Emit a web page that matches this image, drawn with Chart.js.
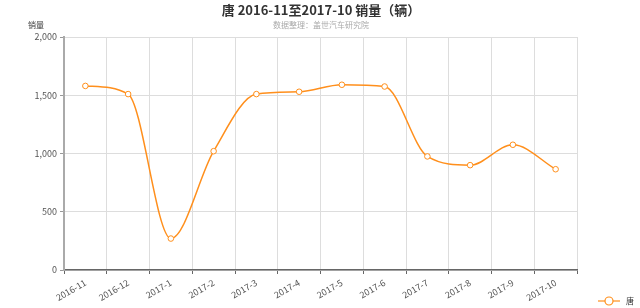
<!DOCTYPE html>
<html>
<head>
<meta charset="utf-8">
<script src="https://cdn.jsdelivr.net/npm/chart.js@4/dist/chart.umd.min.js"></script>
<style>
  html, body { margin: 0; padding: 0; background: #fff; }
  #wrap { width: 640px; height: 308px; position: relative; }
</style>
</head>
<body>
<div id="wrap"><canvas id="c" width="640" height="308"></canvas></div>
<script>
// 数据
const months = ["2016-11", "2016-12", "2017-1", "2017-2", "2017-3", "2017-4",
                "2017-5", "2017-6", "2017-7", "2017-8", "2017-9", "2017-10"];
const sales = [1580, 1510, 270, 1020, 1510, 1530, 1590, 1575, 975, 900, 1075, 865];
const yTicks = [0, 500, 1000, 1500, 2000];
const seriesName = "唐";
const titleText = "唐 2016-11至2017-10 销量（辆）";
const subText = "数据整理：盖世汽车研究院";
const yName = "销量";

const ORANGE = "#ff8f1c";
const FONT = "'Noto Sans CJK SC', 'Noto Sans', sans-serif";

// 标题、副标题、轴名、图例
const textPlugin = {
    id: "texts",
    afterDraw(chart) {
        const ctx = chart.ctx;
        const area = chart.chartArea;
        ctx.save();
        ctx.textAlign = "center";
        ctx.textBaseline = "middle";
        ctx.fillStyle = "#333";
        ctx.font = "bold 13px " + FONT;
        ctx.fillText(titleText, 321, 10);
        ctx.fillStyle = "#aaa";
        ctx.font = "8px " + FONT;
        ctx.fillText(subText, 321, 25);
        ctx.fillStyle = "#333";
        ctx.font = "8px " + FONT;
        ctx.fillText(yName, area.left - 28, 25);

        // 图例
        const lx = 609, ly = 301;
        ctx.strokeStyle = ORANGE;
        ctx.lineWidth = 1.2;
        ctx.beginPath();
        ctx.moveTo(lx - 11, ly);
        ctx.lineTo(lx + 11, ly);
        ctx.stroke();
        ctx.beginPath();
        ctx.arc(lx, ly, 4, 0, Math.PI * 2);
        ctx.fillStyle = "#fff";
        ctx.fill();
        ctx.stroke();
        ctx.fillStyle = "#333";
        ctx.textAlign = "left";
        ctx.font = "8px " + FONT;
        ctx.fillText(seriesName, lx + 17, ly);
        ctx.restore();
    }
};

new Chart(document.getElementById("c").getContext("2d"), {
    type: "line",
    data: {
        labels: months,
        datasets: [{
            label: seriesName,
            data: sales,
            borderColor: ORANGE,
            borderWidth: 1.5,
            cubicInterpolationMode: "monotone",
            pointRadius: 2.8,
            pointBorderWidth: 1,
            pointBackgroundColor: "#fff",
            pointBorderColor: ORANGE,
            fill: false
        }]
    },
    options: {
        responsive: false,
        animation: false,
        layout: { padding: { top: 37, right: 63, bottom: 0, left: 0 } },
        plugins: {
            legend: { display: false },
            title: { display: false },
            tooltip: { enabled: false }
        },
        scales: {
            x: {
                offset: true,
                grid: { offset: true, color: "#ddd", tickLength: 4, tickColor: "#666" },
                border: { color: "#666", width: 1.5 },
                ticks: {
                    color: "#555",
                    font: { size: 9, family: FONT },
                    maxRotation: 30,
                    minRotation: 30,
                    autoSkip: false,
                    padding: 3
                },
                afterFit(scale) { scale.height = 38; }
            },
            y: {
                min: 0,
                max: 2000,
                afterBuildTicks(scale) { scale.ticks = yTicks.map(v => ({ value: v })); },
                grid: { color: "#ddd", tickLength: 4, tickColor: "#999" },
                border: { color: "#aaa", width: 2 },
                ticks: {
                    color: "#555",
                    font: { size: 9, family: FONT },
                    padding: 3,
                    callback: v => v.toLocaleString("en-US")
                },
                afterFit(scale) { scale.width = 64; }
            }
        }
    },
    plugins: [textPlugin]
});
</script>
</body>
</html>
